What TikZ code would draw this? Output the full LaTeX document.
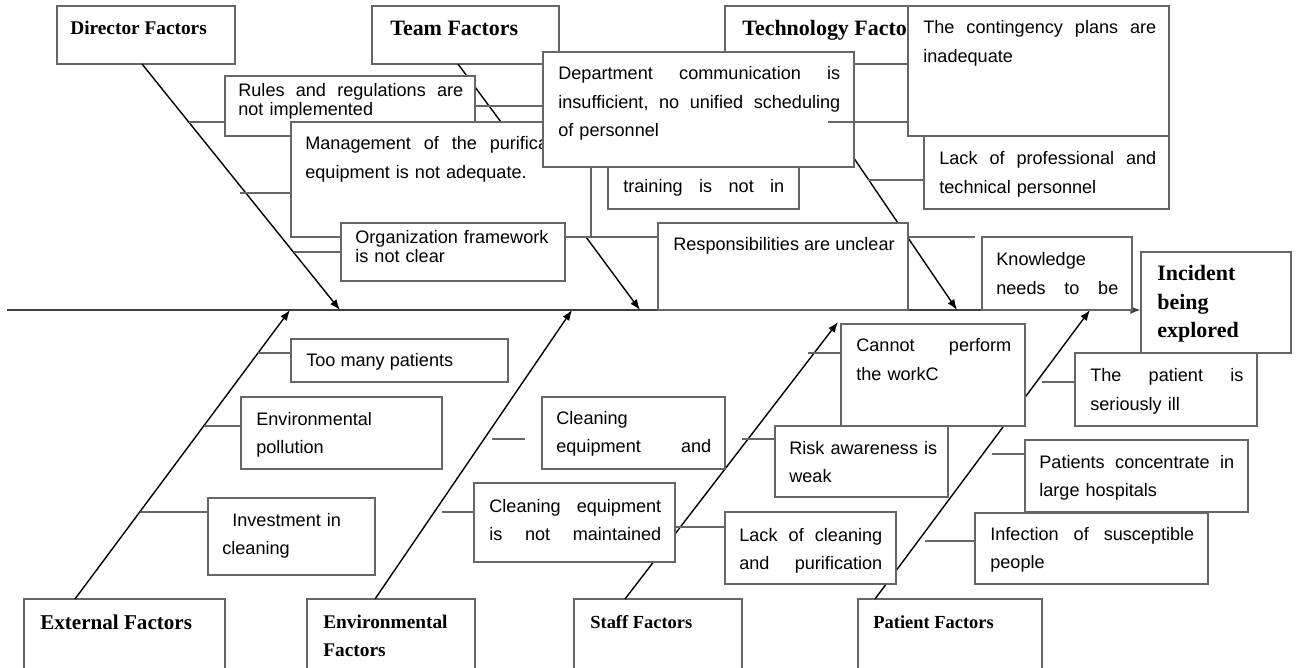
\documentclass[tikz,border=0pt]{standalone}
\usepackage{fontspec}
\setmainfont{Liberation Sans}
\newfontfamily\headserif{Liberation Serif}
\usetikzlibrary{arrows.meta}

\begin{document}
\begin{tikzpicture}[x=0.02cm, y=-0.02cm,
    wh/.style 2 args={minimum width=#1cm, minimum height=#2cm},
    cause/.style={draw=black!60, line width=0.8pt, fill=white, anchor=north west, inner sep=0pt, outer sep=0pt},
    note/.style={anchor=base west, inner sep=0pt, align=left, font=\fontsize{10.3}{16}\selectfont},
    tight/.style={font=\fontsize{10.3}{10.5}\selectfont},
    head/.style={anchor=base west, inner sep=0pt, align=left, font=\headserif\bfseries\fontsize{#1}{16}\selectfont},
    head/.default=10.5,
    spine/.style={draw=black!75, line width=1pt, -{Latex[length=6pt,width=4.5pt]}},
    bone/.style={black, line width=0.8pt, -{Latex[length=6pt,width=4.5pt]}},
    twig/.style={draw=black!60, line width=0.8pt}]
    \useasboundingbox (0,0) rectangle (1297,668);

    % top heads
    \node[cause, wh={3.56}{1.16}] at (57,6) (director) {};
    \node[head=11] at (70,35) (director-t) {Director Factors};
    \node[cause, wh={3.74}{1.16}] at (372,6) (team) {};
    \node[head=12.5] at (390,36) (team-t) {Team Factors};
    \node[cause, wh={4.5}{1.16}] at (725,6) (tech) {};
    \node[head=12.5] at (742,36) (tech-t) {Technology Factors};

    % spine
    \node[cause, wh={3.0}{2.02}] at (1141,252) (incident) {};
    \coordinate (tail) at (7,310);
    \draw[spine] (tail) -- (tail -| incident.west);

    \coordinate (s-director) at (340,310);
    \coordinate (s-team) at (640,310);
    \coordinate (s-tech) at (957,310);
    \coordinate (s-external) at (290,310);
    \coordinate (s-envf) at (572,310);
    \coordinate (s-staff) at (838,322);
    \coordinate (s-patient) at (1090,310);

    \draw[bone] (director.south west) ++(85,0) -- (s-director);
    \draw[bone] (team.south west) ++(86,0) -- (s-team);
    \draw[bone] (tech.south west) ++(65,0) -- (s-tech);

    % bottom heads
    \node[cause, wh={4.02}{1.5}] at (24,599) (external) {};
    \node[head=12] at (40,629) (external-t) {External Factors};
    \node[cause, wh={3.36}{1.5}] at (307,599) (envf) {};
    \node[head=11, text width=3cm] at (323,628) (envf-t) {Environmental\\Factors};
    \node[cause, wh={3.36}{1.5}] at (574,599) (staff) {};
    \node[head] at (590,628) (staff-t) {Staff Factors};
    \node[cause, wh={3.68}{1.5}] at (858,599) (patient) {};
    \node[head] at (873,628) (patient-t) {Patient Factors};

    \draw[bone] (external.north west) ++(51,0) -- (s-external);
    \draw[bone] (envf.north west) ++(68,0) -- (s-envf);
    \draw[bone] (staff.north west) ++(51,0) -- (s-staff);
    \draw[bone] (patient.north west) ++(17,0) -- (s-patient);

    % top causes
    \node[cause, wh={5.0}{1.2}] at (225,76) (rules) {};
    \node[note, tight, text width=4.5cm] at (238,97) (rules-t) {Rules \hfill and \hfill regulations \hfill are\\not implemented};
    \node[cause, wh={6.0}{2.3}] at (291,122) (mgmt) {};
    \node[note, text width=5.44cm] at (305,150) (mgmt-t) {Management \hfill of \hfill the \hfill purification\\equipment is not adequate.};
    \node[cause, wh={4.48}{1.16}] at (341,223) (org) {};
    \node[note, tight, text width=4.2cm] at (355,244) (org-t) {Organization framework\\is not clear};
    \node[cause, wh={3.82}{1.18}] at (608,150) (training) {};
    \node[note, text width=3.22cm] at (623,193) (training-t) {training \hfill is \hfill not \hfill in};
    \node[cause, wh={6.22}{2.3}] at (543,52) (dept) {};
    \node[note, text width=5.64cm] at (558,80) (dept-t) {Department \hfill communication \hfill is\\insufficient, \hfill no \hfill unified \hfill scheduling\\of personnel};
    \node[cause, wh={5.22}{2.6}] at (908,6) (cont) {};
    \node[note, text width=4.66cm] at (923,34) (cont-t) {The \hfill contingency \hfill plans \hfill are\\inadequate};
    \node[cause, wh={4.9}{1.46}] at (924,136) (lack) {};
    \node[note, text width=4.34cm] at (939,165) (lack-t) {Lack \hfill of \hfill professional \hfill and\\technical personnel};
    \node[cause, wh={5.0}{1.74}] at (658,223) (resp) {};
    \node[note] at (673,251) (resp-t) {Responsibilities are unclear};
    \node[cause, wh={3.0}{1.46}] at (982,237) (know) {};
    \node[note, text width=2.44cm] at (996,266) (know-t) {Knowledge\\needs \hfill to \hfill be};
    \node[head=12.5, text width=2.8cm] at (1157,281) (incident-t) {Incident\\being\\explored};

    \draw[twig] (rules.west) ++(0,16) -- ++(-36,0);
    \draw[twig] (mgmt.west) ++(0,13.5) -- ++(-51,0);
    \draw[twig] (org.west) -- ++(-47,0);
    \draw[twig] (rules.east) -- (rules.east -| dept.west);
    \draw[twig] (mgmt.south east) -- (mgmt.south east -| resp.west);
    \draw[twig] (cont.west) ++(0,51) -- ++(-80,0);
    \draw[twig] (lack.west) ++(0,7.5) -- ++(-56,0);
    \draw[twig] (resp.north east) ++(0,14) -- ++(67,0);

    % bottom causes
    \node[cause, wh={4.34}{0.86}] at (291,339) (toomany) {};
    \node[note] at (306,367) (toomany-t) {Too many patients};
    \node[cause, wh={4.02}{1.44}] at (241,397) (pollution) {};
    \node[note, text width=3.6cm] at (256,425) (pollution-t) {Environmental\\pollution};
    \node[cause, wh={3.34}{1.54}] at (208,498) (invest) {};
    \node[note, text width=3.0cm] at (222,526) (invest-t) {\hspace*{0.2cm}Investment in\\cleaning};
    \node[cause, wh={3.66}{1.44}] at (542,397) (cleq) {};
    \node[note, text width=3.1cm] at (556,424) (cleq-t) {Cleaning\\equipment \hfill and};
    \node[cause, wh={4.02}{1.58}] at (474,483) (clmaint) {};
    \node[note, text width=3.44cm] at (489,512) (clmaint-t) {Cleaning \hfill equipment\\is \hfill not \hfill maintained};
    \node[cause, wh={3.68}{2.04}] at (841,324) (cannot) {};
    \node[note, text width=3.1cm] at (856,352) (cannot-t) {Cannot \hfill perform\\the workC};
    \node[cause, wh={3.46}{1.42}] at (775,426) (risk) {};
    \node[note, text width=3.2cm] at (789,454) (risk-t) {Risk awareness is\\weak};
    \node[cause, wh={3.42}{1.44}] at (725,512) (lackcl) {};
    \node[note, text width=2.86cm] at (739,541) (lackcl-t) {Lack \hfill of \hfill cleaning\\and \hfill purification};
    \node[cause, wh={3.64}{1.46}] at (1075,353) (ill) {};
    \node[note, text width=3.06cm] at (1090,382) (ill-t) {The \hfill patient \hfill is\\seriously ill};
    \node[cause, wh={4.46}{1.44}] at (1025,440) (conc) {};
    \node[note, text width=3.9cm] at (1039,468) (conc-t) {Patients \hfill concentrate \hfill in\\large hospitals};
    \node[cause, wh={4.66}{1.42}] at (975,513) (infect) {};
    \node[note, text width=4.08cm] at (990,540) (infect-t) {Infection \hfill of \hfill susceptible\\people};

    \draw[twig] (toomany.west) ++(0,-7.5) -- ++(-33,0);
    \draw[twig] (pollution.west) ++(0,-7) -- ++(-37,0);
    \draw[twig] (invest.west) ++(0,-24.5) -- ++(-68,0);
    \draw[twig] (cleq.west) ++(-17,6) -- ++(-33,0);
    \draw[twig] (clmaint.west) ++(0,-10.5) -- ++(-32,0);
    \draw[twig] (lackcl.west) ++(0,-21) -- ++(-50,0);
    \draw[twig] (cannot.west) ++(0,-22) -- ++(-33,0);
    \draw[twig] (risk.west) ++(0,-22.5) -- ++(-33,0);
    \draw[twig] (ill.west) ++(0,-7.5) -- ++(-33,0);
    \draw[twig] (conc.west) ++(0,-22) -- ++(-33,0);
    \draw[twig] (infect.west) ++(0,-7.5) -- ++(-50,0);
\end{tikzpicture}
\end{document}
